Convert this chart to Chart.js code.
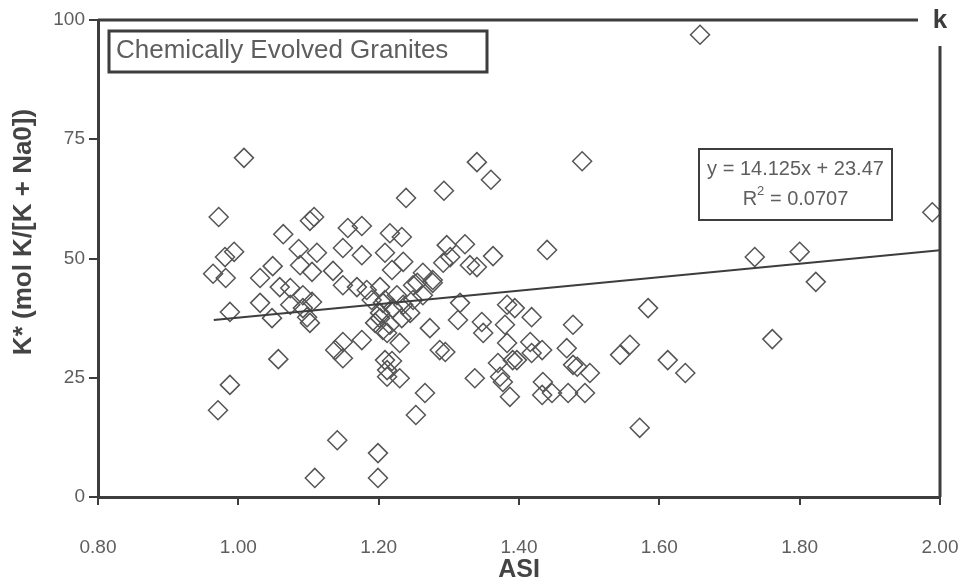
<!DOCTYPE html>
<html>
<head>
<meta charset="utf-8">
<script src="https://cdn.jsdelivr.net/npm/chart.js@4/dist/chart.umd.min.js"></script>
<style>
  html, body { margin: 0; padding: 0; background: #ffffff; }
  #wrap { width: 963px; height: 585px; }
</style>
</head>
<body>
<div id="wrap"><canvas id="c" width="963" height="585"></canvas></div>
<script>
// ASI (x) and K* (y) for each granite sample
const asi = [
  1.008, 0.972, 0.994, 0.981, 0.964, 0.982, 1.064, 1.108, 1.102, 1.156,
  1.176, 1.086, 1.112, 1.049, 1.031, 1.088, 1.135, 1.149, 1.176, 1.216,
  1.233, 1.239, 1.293, 1.340, 1.360, 1.297, 1.323, 1.330, 1.340, 1.363,
  1.440, 1.209, 1.219, 1.235, 1.149, 1.183, 1.263, 1.277, 1.255, 1.292,
  1.302, 0.988, 1.031, 1.048, 1.057, 0.988, 0.971, 1.141, 1.109, 1.199,
  1.199, 1.266, 1.253, 1.219, 1.212, 1.230, 1.149, 1.138, 1.149, 1.176,
  1.337, 1.370, 1.373, 1.387, 1.377, 1.287, 1.273, 1.316, 1.313, 1.347,
  1.349, 1.383, 1.394, 1.380, 1.383, 1.391, 1.416, 1.418, 1.433, 1.434,
  1.433, 1.102, 1.105, 1.092, 1.202, 1.195, 1.216, 1.233, 1.230, 1.206,
  1.220, 1.235, 1.245, 1.074, 1.092, 1.263, 1.249, 1.202, 1.823, 1.584,
  1.477, 1.761, 1.468, 1.558, 1.544, 1.483, 1.501, 1.612, 1.637, 1.447,
  1.470, 1.494, 1.572, 1.658, 1.490, 1.989, 1.736, 1.800, 1.226, 1.209,
  1.249, 1.277, 1.418, 1.295, 1.212, 1.209, 1.397, 1.477, 1.074, 1.098,
  1.202, 1.206, 1.212, 1.190, 1.059, 1.105, 1.169
];
const kStar = [
  71.1, 58.7, 51.4, 50.3, 46.8, 45.9, 55.1, 58.7, 57.9, 56.4,
  56.8, 52.0, 51.2, 48.4, 45.9, 48.6, 47.4, 52.2, 50.7, 55.3,
  54.5, 62.7, 64.2, 70.2, 66.5, 52.8, 53.0, 48.6, 48.2, 50.5,
  51.8, 51.2, 47.6, 49.3, 44.4, 43.4, 47.0, 45.5, 44.9, 49.1,
  50.3, 38.8, 40.7, 37.5, 28.9, 23.5, 18.2, 11.9, 4.0, 9.2,
  4.0, 21.8, 17.2, 28.5, 25.2, 24.9, 32.5, 30.8, 29.1, 32.9,
  24.9, 28.1, 25.2, 21.0, 24.1, 30.8, 35.4, 40.7, 37.1, 36.7,
  34.4, 40.3, 39.6, 36.1, 32.3, 28.7, 32.5, 37.7, 30.8, 24.1,
  21.4, 36.5, 40.9, 39.6, 37.5, 36.5, 36.1, 37.5, 32.3, 40.7,
  39.6, 40.3, 38.6, 40.3, 42.3, 42.3, 41.3, 44.0, 45.1, 39.6,
  36.1, 33.1, 31.2, 31.9, 29.8, 27.3, 26.0, 28.7, 26.0, 21.8,
  21.8, 21.8, 14.5, 96.9, 70.4, 59.7, 50.3, 51.4, 42.3, 41.3,
  44.4, 44.9, 30.2, 30.4, 34.4, 28.7, 28.7, 27.7, 43.8, 37.7,
  38.6, 35.0, 26.6, 41.3, 44.0, 47.2, 44.0
];

// Linear fit reported on the chart
const fitSlope = 14.125;
const fitIntercept = 23.47;
const fitRange = [0.965, 2.0];

const xTicks = [0.8, 1.0, 1.2, 1.4, 1.6, 1.8, 2.0];
const yTicks = [0, 25, 50, 75, 100];

const INK = '#3d3d3d';
const TEXT = '#5e5e5e';
const FONT = '"Liberation Sans", Arial, sans-serif';

const samples = asi.map((x, i) => ({ x: x, y: kStar[i] }));
const fitLine = fitRange.map(x => ({ x: x, y: fitSlope * x + fitIntercept }));

// Frame, panel letter, y-axis title and text boxes
const decorations = {
  id: 'decorations',
  afterDraw(chart) {
    const { ctx, chartArea: a } = chart;
    ctx.save();
    ctx.strokeStyle = INK;
    ctx.lineWidth = 3;
    ctx.lineCap = 'butt';
    // top edge stops short of the panel letter
    ctx.beginPath();
    ctx.moveTo(a.left, a.top);
    ctx.lineTo(a.right - 22, a.top);
    ctx.stroke();
    // right edge starts below the panel letter
    ctx.beginPath();
    ctx.moveTo(a.right, a.top + 26);
    ctx.lineTo(a.right, a.bottom);
    ctx.stroke();

    // panel letter
    ctx.fillStyle = INK;
    ctx.font = 'bold 26px ' + FONT;
    ctx.textAlign = 'center';
    ctx.textBaseline = 'middle';
    ctx.fillText('k', a.right, a.top + 1);

    // y-axis title, set a little above the axis middle
    ctx.save();
    ctx.translate(24, a.top + 212);
    ctx.rotate(-Math.PI / 2);
    ctx.fillStyle = '#444444';
    ctx.font = 'bold 26px ' + FONT;
    ctx.fillText('K* (mol K/[K + Na0])', 0, 0);
    ctx.restore();

    // title box
    ctx.lineWidth = 3;
    ctx.strokeRect(a.left + 11, a.top + 11, 378, 41);
    ctx.fillStyle = TEXT;
    ctx.font = '26px ' + FONT;
    ctx.textAlign = 'left';
    ctx.fillText('Chemically Evolved Granites', a.left + 18, a.top + 31);

    // equation box
    const bx = a.left + 601, by = a.top + 129, bw = 193, bh = 71;
    ctx.lineWidth = 2;
    ctx.fillStyle = '#ffffff';
    ctx.fillRect(bx, by, bw, bh);
    ctx.strokeRect(bx, by, bw, bh);
    ctx.fillStyle = TEXT;
    ctx.font = '20px ' + FONT;
    ctx.textAlign = 'center';
    ctx.fillText('y = 14.125x + 23.47', bx + bw / 2, by + 20);
    // R² line with a raised 2
    const rest = ' = 0.0707';
    const wR = ctx.measureText('R').width;
    const wRest = ctx.measureText(rest).width;
    ctx.font = '13px ' + FONT;
    const w2 = ctx.measureText('2').width;
    const total = wR + w2 + wRest;
    const sx = bx + bw / 2 - total / 2;
    const ry = by + 50;
    ctx.textAlign = 'left';
    ctx.font = '20px ' + FONT;
    ctx.fillText('R', sx, ry);
    ctx.font = '13px ' + FONT;
    ctx.fillText('2', sx + wR, ry - 8);
    ctx.font = '20px ' + FONT;
    ctx.fillText(rest, sx + wR + w2, ry);
    ctx.restore();
  }
};

new Chart(document.getElementById('c'), {
  type: 'scatter',
  data: {
    datasets: [
      {
        type: 'scatter',
        data: samples,
        pointStyle: 'rectRot',
        pointRadius: 9.5,
        pointHoverRadius: 9.5,
        borderColor: '#555555',
        borderWidth: 1.5,
        backgroundColor: 'rgba(255,255,255,0)',
        order: 2
      },
      {
        type: 'line',
        data: fitLine,
        borderColor: INK,
        borderWidth: 2,
        pointRadius: 0,
        fill: false,
        order: 1
      }
    ]
  },
  options: {
    responsive: false,
    animation: false,
    events: [],
    layout: { padding: { left: 0, top: 20, right: 23, bottom: 0 } },
    plugins: { legend: { display: false }, tooltip: { enabled: false } },
    scales: {
      x: {
        type: 'linear',
        min: 0.8,
        max: 2.0,
        afterBuildTicks(scale) { scale.ticks = xTicks.map(v => ({ value: v })); },
        afterFit(scale) {
          scale.height = 88;
          scale.paddingLeft = 0;
          scale.paddingRight = 0;
        },
        ticks: {
          callback: v => v.toFixed(2),
          color: TEXT,
          font: { family: FONT, size: 19 },
          padding: 31,
          maxRotation: 0
        },
        grid: { drawOnChartArea: false, drawTicks: true, tickLength: 8, color: INK, lineWidth: 2 },
        border: { display: true, color: INK, width: 3 },
        title: {
          display: true,
          text: 'ASI',
          color: '#444444',
          font: { family: FONT, size: 25, weight: 'bold' },
          padding: { top: 0, bottom: 0 }
        }
      },
      y: {
        type: 'linear',
        min: 0,
        max: 100,
        afterBuildTicks(scale) { scale.ticks = yTicks.map(v => ({ value: v })); },
        afterFit(scale) {
          scale.width = 98;
          scale.paddingTop = 0;
          scale.paddingBottom = 0;
        },
        ticks: {
          color: TEXT,
          font: { family: FONT, size: 19 },
          padding: 4
        },
        grid: { drawOnChartArea: false, drawTicks: true, tickLength: 9, color: INK, lineWidth: 2 },
        border: { display: true, color: INK, width: 3 },
        title: { display: false }
      }
    }
  },
  plugins: [decorations]
});
</script>
</body>
</html>
